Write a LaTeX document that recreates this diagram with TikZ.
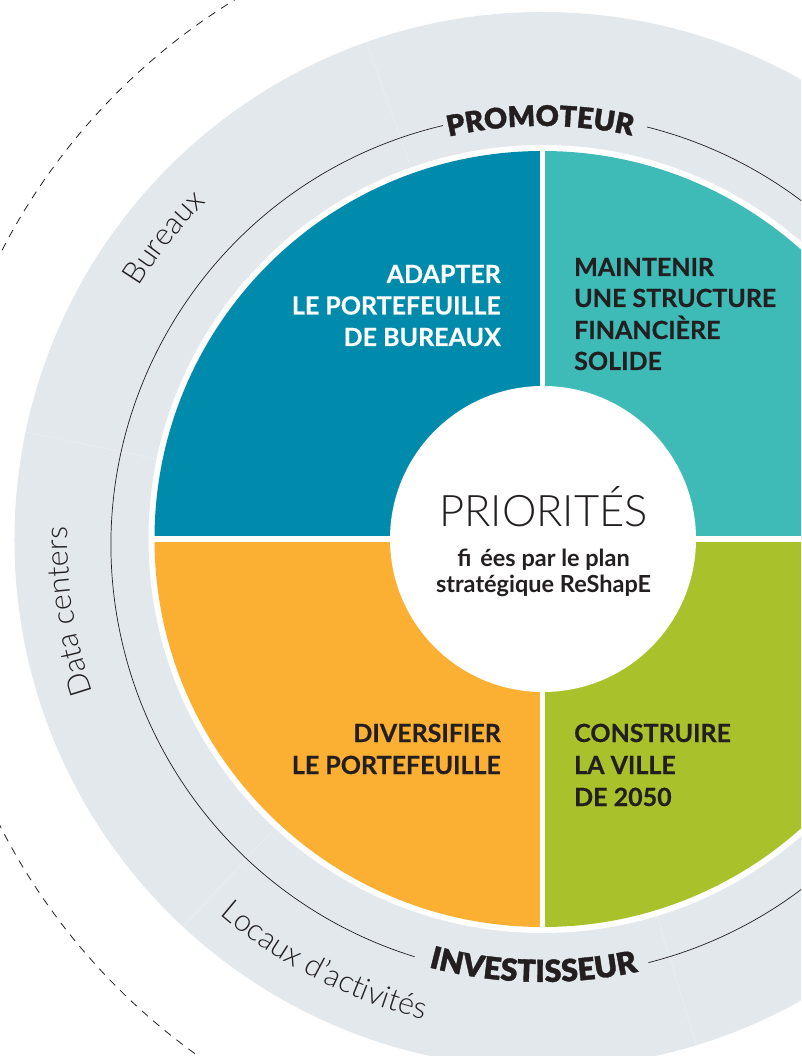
\documentclass[tikz,border=0pt]{standalone}
\usepackage{fontspec}
\setmainfont{Lato}
\newfontfamily\lightf{Lato Light}
\newfontfamily\blackf{Lato Black}[FakeBold=1.2]
\newfontfamily\quadf{Lato Bold}[FakeBold=0.5]
\usetikzlibrary{decorations.text}
\definecolor{qblue}{HTML}{008BAD}
\definecolor{qteal}{HTML}{3EBBB6}
\definecolor{qorange}{HTML}{FBB034}
\definecolor{qgreen}{HTML}{A9C22B}
\definecolor{ringgray}{HTML}{E3E8EC}
\definecolor{ink}{HTML}{231F20}
\begin{document}
\begin{tikzpicture}[x=1pt,y=1pt,
  qline/.style={inner sep=0pt, font=\quadf\fontsize{25}{30}\selectfont},
  qleft/.style={qline, anchor=base east},
  qright/.style={qline, anchor=base west},
  subline/.style={inner sep=0pt, anchor=base, text=ink, font=\bfseries\fontsize{23.5}{23.5}\selectfont},
  thinline/.style={draw=ink, line width=0.7pt},
  sepline/.style={white, opacity=0.3, line width=0.6pt},
  gapline/.style={white, line width=5.5pt},
  ringtext/.style={decorate, decoration={text along path, text align=center, text color=ink,
     text={|\lightf\fontsize{30.5}{30.5}\selectfont|#1}}},
  roletext/.style 2 args={decorate, decoration={text along path, text align=center, text color=ink,
     text={|\blackf\fontsize{#1}{#1}\selectfont|#2}}}
]
\useasboundingbox (-542.5,-517) rectangle (258.5,539);
\clip (-542.5,-517) rectangle (258.5,539);
\fill[white] (-542.5,-517) rectangle (258.5,539);
% dashed outer circle
\draw[ink, line width=0.8pt, dash pattern=on 8pt off 7pt] (22.5,-1) circle[radius=633];
% gray ring
\fill[ringgray] (0,-1) circle[radius=528];
\foreach \a in {109.5,168.3,227.2,286.9} \draw[sepline] (\a:394) -- (\a:528);
% thin circle, broken at the two role names
\begin{scope}[shift={(-0.5,-6)}]
\draw[thinline] (284.3:431) arc[start angle=284.3, end angle=435.9, radius=431];
\draw[thinline] (103.3:431) arc[start angle=103.3, end angle=252.8, radius=431];
\end{scope}
% white ring and quadrants
\fill[white] (0,0) circle[radius=394];
\fill[qblue] (0,0) -- (180:388) arc[start angle=180, end angle=90, radius=388] -- cycle;
\fill[qteal] (0,0) -- (90:388) arc[start angle=90, end angle=0, radius=388] -- cycle;
\fill[qgreen] (0,0) -- (0:388) arc[start angle=0, end angle=-90, radius=388] -- cycle;
\fill[qorange] (0,0) -- (-90:388) arc[start angle=-90, end angle=-180, radius=388] -- cycle;
\draw[gapline] (-390,0) -- (390,0);
\draw[gapline] (0,-390) -- (0,390);
\node[circle, fill=white, inner sep=0pt, minimum size=306pt] (core) at (0.5,0) {};
% ring labels
\path[ringtext=Bureaux] (171.5:476) arc[start angle=171.5, end angle=111.5, radius=476];
\path[ringtext=Data centers] (218.7:475) arc[start angle=218.7, end angle=158.7, radius=475];
\path[ringtext=Locaux d’activités] (207.7:495) arc[start angle=207.7, end angle=277.7, radius=495];
% role names
\path[roletext={28.5}{PROMOTEUR}] (180.3:413) arc[start angle=180.3, end angle=0.3, radius=413];
\path[roletext={30.5}{INVESTISSEUR}] (178.8:443) arc[start angle=178.8, end angle=358.8, radius=443];
% centre
\node[anchor=base, inner sep=0pt, text=ink, font=\lightf\fontsize{43.5}{43.5}\selectfont] (prio) at (1,12) {PRIORITÉS};
\node[subline] (sub1) at (1,-27.5) {fi\hspace{9pt}ées par le plan};
\node[subline] (sub2) at (1,-54) {stratégique ReShapE};
% quadrant texts
\node[qleft, text=white] (a1) at (-41.5,256) {ADAPTER};
\node[qleft, text=white] (a2) at (-41.5,224.5) {LE PORTEFEUILLE};
\node[qleft, text=white] (a3) at (-41.5,193) {DE BUREAUX};
\node[qright, text=ink] (m1) at (31.5,263) {MAINTENIR};
\node[qright, text=ink] (m2) at (31.5,232) {UNE STRUCTURE};
\node[qright, text=ink] (m3) at (31.5,200) {FINANCIÈRE};
\node[qright, text=ink] (m4) at (31.5,169) {SOLIDE};
\node[qleft, text=ink] (d1) at (-41.5,-203) {DIVERSIFIER};
\node[qleft, text=ink] (d2) at (-41.5,-235) {LE PORTEFEUILLE};
\node[qright, text=ink] (c1) at (31.5,-203) {CONSTRUIRE};
\node[qright, text=ink] (c2) at (31.5,-235) {LA VILLE};
\node[qright, text=ink] (c3) at (31.5,-267) {DE 2050};
\end{tikzpicture}
\end{document}
